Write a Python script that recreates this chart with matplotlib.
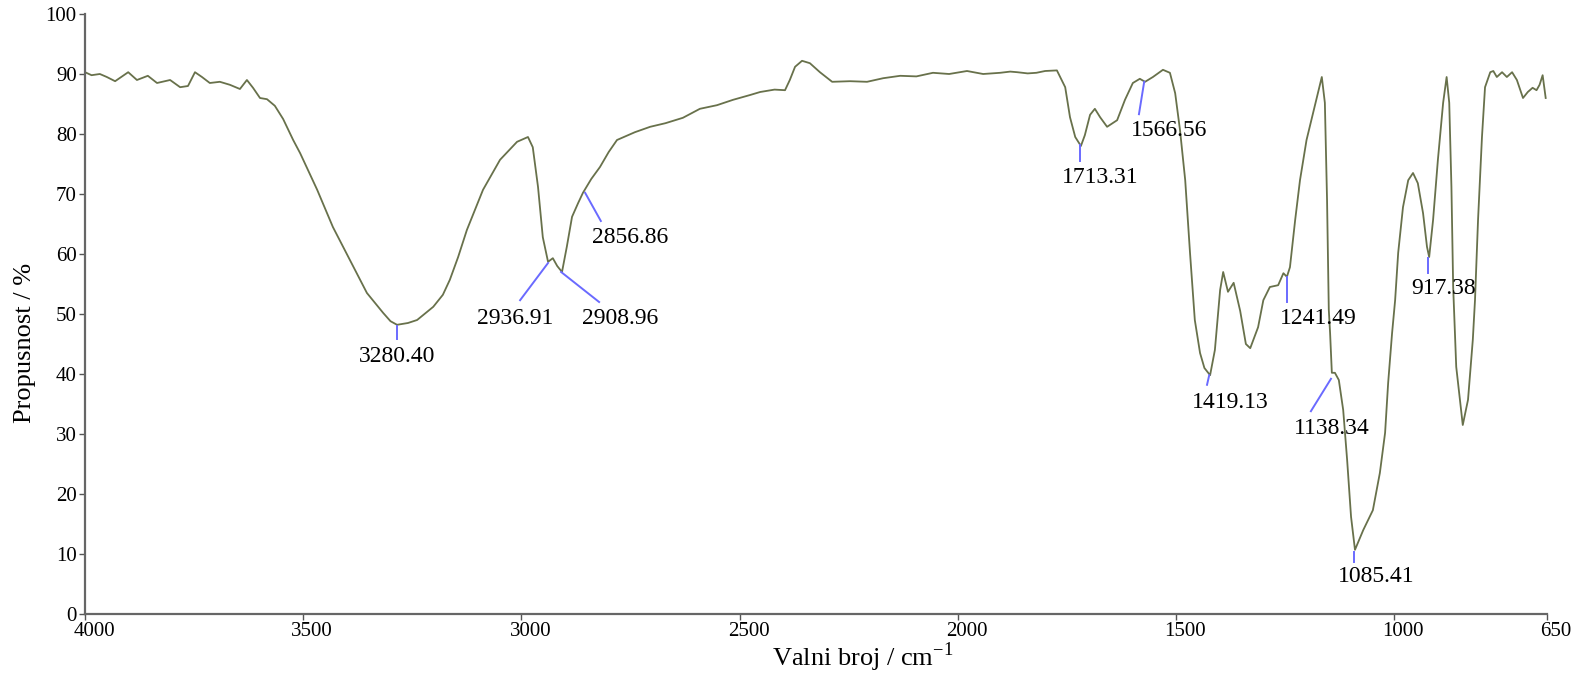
import matplotlib
matplotlib.use("Agg")
import matplotlib.pyplot as plt
import matplotlib.transforms as mtransforms

plt.rcParams['font.family'] = ['Liberation Serif', 'DejaVu Serif']
plt.rcParams['mathtext.fontset'] = 'custom'
plt.rcParams['mathtext.rm'] = 'Liberation Serif'

# spectrum (wavenumber / cm-1, transmittance / %)
wavenumber = [4000, 3985, 3966, 3950, 3931, 3915, 3901, 3881, 3856, 3835,
              3805, 3782, 3764, 3748, 3732, 3714, 3691, 3668, 3645, 3629,
              3615, 3599, 3583, 3565, 3546, 3523, 3507, 3468, 3432, 3393,
              3354, 3317, 3300, 3285, 3260, 3239, 3202, 3180, 3164, 3145,
              3125, 3088, 3049, 3010, 2985, 2974, 2962, 2951, 2939, 2928,
              2918, 2907, 2896, 2884, 2870, 2859, 2840, 2820, 2800, 2781,
              2740, 2705, 2670, 2630, 2591, 2552, 2515, 2476, 2453, 2420,
              2396, 2385, 2373, 2357, 2339, 2316, 2288, 2247, 2208, 2171,
              2132, 2095, 2057, 2020, 1979, 1942, 1903, 1880, 1864, 1840,
              1820, 1800, 1773, 1754, 1743, 1731, 1718, 1709, 1697, 1686,
              1674, 1658, 1635, 1617, 1599, 1583, 1571, 1553, 1530, 1514,
              1502, 1491, 1479, 1468, 1457, 1445, 1435, 1422, 1411, 1399,
              1392, 1381, 1368, 1353, 1340, 1330, 1312, 1300, 1285, 1266,
              1254, 1246, 1239, 1227, 1216, 1201, 1186, 1175, 1166, 1159,
              1154, 1150, 1147, 1143, 1136, 1127, 1117, 1108, 1099, 1090,
              1071, 1049, 1033, 1021, 1014, 1005, 998, 991, 980, 968,
              957, 946, 934, 925, 920, 911, 900, 888, 880, 874,
              869, 865, 858, 843, 831, 820, 815, 808, 799, 792,
              780, 773, 765, 753, 742, 730, 719, 705, 694, 683,
              674, 667, 660, 653]
transmittance = [90.3, 89.8, 90.0, 89.5, 88.8, 89.6, 90.3, 89.0, 89.7, 88.5,
                 89.0, 87.8, 88.0, 90.3, 89.5, 88.5, 88.7, 88.2, 87.5, 89.0,
                 87.7, 86.0, 85.8, 84.7, 82.5, 79.0, 76.8, 70.7, 64.5, 59.0,
                 53.5, 50.2, 48.8, 48.2, 48.5, 49.0, 51.2, 53.2, 55.7, 59.5,
                 64.0, 70.7, 75.7, 78.7, 79.5, 77.8, 71.2, 62.8, 58.7, 59.3,
                 58.0, 57.0, 61.2, 66.2, 68.5, 70.2, 72.5, 74.5, 77.0, 79.0,
                 80.3, 81.2, 81.8, 82.7, 84.2, 84.8, 85.7, 86.5, 87.0, 87.4,
                 87.3, 89.0, 91.2, 92.2, 91.8, 90.3, 88.7, 88.8, 88.7, 89.3,
                 89.7, 89.6, 90.2, 90.0, 90.5, 90.0, 90.2, 90.4, 90.3, 90.1,
                 90.2, 90.5, 90.6, 87.8, 82.8, 79.5, 78.0, 79.8, 83.2, 84.2,
                 82.8, 81.2, 82.3, 85.7, 88.5, 89.2, 88.7, 89.5, 90.7, 90.2,
                 86.8, 80.7, 72.3, 60.2, 49.0, 43.5, 41.0, 39.8, 44.0, 54.0,
                 57.0, 53.7, 55.2, 50.5, 45.0, 44.3, 47.8, 52.3, 54.5, 54.8,
                 56.8, 56.2, 57.8, 65.7, 72.3, 79.0, 83.5, 86.8, 89.5, 85.2,
                 69.0, 50.7, 46.8, 40.2, 40.2, 39.0, 34.0, 25.7, 16.2, 10.7,
                 14.0, 17.3, 23.5, 30.2, 38.5, 46.8, 52.3, 60.2, 67.8, 72.3,
                 73.5, 71.8, 66.8, 61.2, 59.5, 65.7, 75.7, 85.2, 89.5, 85.2,
                 71.2, 54.5, 41.2, 31.5, 35.7, 45.7, 52.3, 65.7, 79.5, 87.8,
                 90.3, 90.5, 89.5, 90.3, 89.5, 90.3, 89.0, 86.0, 87.0, 87.7,
                 87.3, 88.2, 89.8, 86.0]

# peak labels
peak_labels = ["3280.40", "2936.91", "2908.96", "2856.86", "1713.31", "1566.56",
               "1419.13", "1241.49", "1138.34", "1085.41", "917.38"]
# leader line (start on curve, end near text) and text centre, data coords
lead_start = [(3285, 48.0), (2939, 58.5), (2909, 57.0), (2854, 70.2), (1720, 78.2),
              (1573, 88.7), (1424, 39.8), (1246, 56.2), (1145, 39.2), (1092, 10.3),
              (923, 59.3)]
lead_end = [(3285, 45.8), (3003, 52.3), (2822, 52.0), (2818, 65.5), (1720, 75.5),
            (1585, 83.3), (1429, 38.2), (1246, 52.0), (1191, 33.8), (1092, 8.7),
            (923, 56.8)]
text_pos = [(3285, 42.9), (3015, 49.3), (2774, 49.3), (2751, 62.7), (1674, 72.8),
            (1516, 80.5), (1376, 35.3), (1175, 49.3), (1143, 31.0), (1042, 6.2),
            (888, 54.2)]

xticks = [4000, 3500, 3000, 2500, 2000, 1500, 1000, 650]
yticks = [0, 10, 20, 30, 40, 50, 60, 70, 80, 90, 100]

fig = plt.figure(figsize=(15.76, 6.78), dpi=100)
ax = fig.add_axes([85 / 1576, 64 / 678, 1462 / 1576, 600 / 678])

ax.plot(wavenumber, transmittance, color="#68714b", lw=1.3)

for lab, s, e, t in zip(peak_labels, lead_start, lead_end, text_pos):
    ax.plot([s[0], e[0]], [s[1], e[1]], color="#6a6aff", lw=1.4)
    ax.text(t[0], t[1], lab, ha="center", va="center", fontsize=17)

ax.set_xlim(4000, 650)
ax.set_ylim(0, 100)
ax.set_xticks(xticks)
ax.set_yticks(yticks)
ax.tick_params(axis="both", labelsize=15, length=4, width=1, color="#555555", pad=2)

offset = mtransforms.ScaledTranslation(9 / 100, 0, fig.dpi_scale_trans)
for lbl in ax.get_xticklabels():
    lbl.set_transform(lbl.get_transform() + offset)

for side in ["top", "right"]:
    ax.spines[side].set_visible(False)
for side in ["left", "bottom"]:
    ax.spines[side].set_color("#666666")
    ax.spines[side].set_linewidth(1.6)

fig.text(863 / 1576, 1 - 657 / 678, r"Valni broj / cm$^{\mathregular{-1}}$",
         ha="center", va="center", fontsize=19)
fig.text(25 / 1576, 1 - 343 / 678, "Propusnost / %", rotation=90,
         ha="center", va="center", fontsize=19)

fig.savefig("out.png", dpi=100)
